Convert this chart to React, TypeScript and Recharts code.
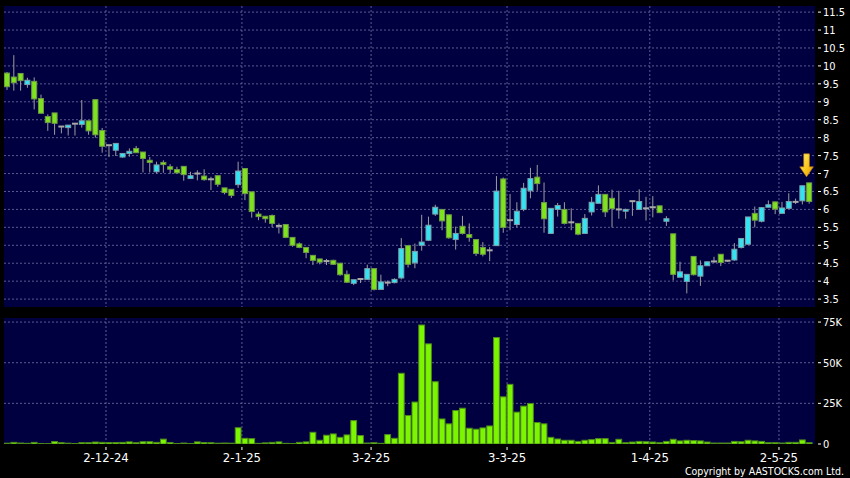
import React from 'react';
import { ComposedChart, BarChart, Bar, XAxis, YAxis, CartesianGrid, ReferenceDot } from 'recharts';

const FONT = "'DejaVu Sans Condensed', 'DejaVu Sans', sans-serif";

// Daily candles (trading days, oldest first)
const opens = [
  9.80, 9.69, 9.79, 9.48, 9.57, 9.09, 8.59, 8.69, 8.31, 8.28,
  8.39, 8.37, 8.47, 9.06, 8.20, 7.79, 7.65, 7.46, 7.56, 7.70,
  7.60, 7.37, 7.05, 7.31, 7.19, 7.11, 7.20, 6.86, 7.00, 6.93,
  6.84, 6.94, 6.60, 6.56, 6.69, 7.14, 6.49, 5.87, 5.81, 5.83,
  5.54, 5.58, 5.22, 5.04, 4.94, 4.72, 4.62, 4.56, 4.58, 4.50,
  4.19, 3.94, 4.06, 4.05, 4.35, 3.77, 3.96, 3.96, 4.09, 4.99,
  4.51, 5.00, 5.14, 5.87, 6.00, 5.85, 5.16, 5.53, 5.30, 5.16,
  4.94, 4.86, 4.99, 6.85, 5.70, 5.58, 6.00, 6.52, 6.90, 6.19,
  5.33, 6.00, 6.00, 5.64, 5.61, 5.33, 5.93, 6.17, 6.42, 6.31,
  6.00, 5.95, 6.23, 6.00, 6.03, 6.06, 6.10, 5.67, 5.32, 4.11,
  3.99, 4.69, 4.14, 4.43, 4.55, 4.75, 4.57, 4.59, 4.94, 5.03,
  5.89, 5.67, 6.06, 6.21, 5.89, 6.03, 6.21, 6.24, 6.74,
];
const highs = [
  9.83, 10.30, 9.80, 9.67, 9.68, 9.20, 8.65, 8.69, 8.32, 8.35,
  8.39, 9.05, 8.47, 9.06, 8.27, 7.79, 7.84, 7.57, 7.70, 7.77,
  7.60, 7.46, 7.33, 7.37, 7.26, 7.19, 7.20, 7.05, 7.09, 7.12,
  6.91, 6.94, 6.60, 6.56, 7.33, 7.14, 6.49, 5.94, 5.81, 5.86,
  5.61, 5.58, 5.22, 5.08, 4.94, 4.72, 4.62, 4.62, 4.60, 4.50,
  4.30, 4.04, 4.06, 4.46, 4.35, 4.18, 4.02, 4.08, 5.20, 4.99,
  5.05, 5.85, 5.80, 6.13, 6.00, 5.85, 5.52, 5.82, 5.61, 5.16,
  5.09, 4.95, 6.93, 6.89, 6.43, 6.20, 6.74, 7.16, 7.24, 6.75,
  6.03, 6.18, 6.20, 6.03, 5.61, 5.87, 6.35, 6.67, 6.42, 6.55,
  6.52, 6.02, 6.23, 6.56, 6.35, 6.37, 6.10, 5.81, 5.32, 4.54,
  4.19, 4.69, 4.58, 4.54, 4.68, 4.75, 4.58, 5.06, 5.19, 5.79,
  6.08, 6.05, 6.25, 6.21, 6.21, 6.45, 6.30, 6.66, 6.74,
];
const lows = [
  9.33, 9.31, 9.31, 9.39, 8.79, 8.68, 8.19, 8.08, 8.12, 8.06,
  8.06, 8.28, 8.08, 8.00, 7.58, 7.46, 7.49, 7.44, 7.47, 7.58,
  7.03, 7.03, 7.00, 7.02, 7.00, 7.00, 6.80, 6.85, 6.81, 6.80,
  6.54, 6.63, 6.42, 6.32, 6.60, 6.26, 5.77, 5.70, 5.63, 5.50,
  5.33, 5.20, 4.96, 4.92, 4.64, 4.45, 4.47, 4.45, 4.45, 4.15,
  3.95, 3.89, 3.95, 4.05, 3.74, 3.77, 3.86, 3.94, 4.05, 4.38,
  4.36, 4.85, 5.12, 5.82, 5.42, 5.18, 4.88, 5.30, 5.10, 4.70,
  4.69, 4.56, 4.99, 5.35, 5.42, 5.50, 5.95, 6.31, 6.52, 5.35,
  5.33, 5.80, 5.58, 5.42, 5.28, 5.33, 5.83, 6.17, 5.79, 5.50,
  5.74, 5.74, 5.82, 6.00, 5.69, 5.78, 5.91, 5.54, 4.02, 4.11,
  3.66, 4.16, 3.87, 4.43, 4.51, 4.42, 4.54, 4.57, 4.91, 5.01,
  5.50, 5.64, 6.06, 5.87, 5.89, 6.03, 6.15, 6.14, 6.16,
];
const closes = [
  9.42, 9.53, 9.59, 9.60, 9.08, 8.68, 8.42, 8.40, 8.31, 8.35,
  8.39, 8.47, 8.19, 8.08, 7.76, 7.79, 7.84, 7.56, 7.62, 7.58,
  7.42, 7.31, 7.24, 7.25, 7.12, 7.02, 6.97, 6.94, 7.00, 6.83,
  6.84, 6.70, 6.47, 6.39, 7.07, 6.44, 5.94, 5.80, 5.74, 5.61,
  5.54, 5.22, 5.00, 4.94, 4.80, 4.58, 4.53, 4.56, 4.47, 4.18,
  3.97, 4.04, 4.06, 4.35, 3.77, 3.98, 3.96, 4.05, 4.91, 4.47,
  4.83, 5.09, 5.56, 6.06, 5.68, 5.21, 5.33, 5.33, 5.22, 4.77,
  4.75, 4.86, 6.51, 5.50, 5.70, 5.95, 6.59, 6.86, 6.72, 5.74,
  6.03, 6.11, 5.61, 5.64, 5.31, 5.75, 6.20, 6.42, 5.93, 6.02,
  6.00, 6.00, 6.23, 6.22, 6.03, 6.06, 5.91, 5.74, 4.19, 4.26,
  4.19, 4.18, 4.43, 4.54, 4.55, 4.52, 4.57, 4.89, 5.19, 5.79,
  5.70, 6.05, 6.13, 6.01, 6.04, 6.22, 6.21, 6.66, 6.22,
];
const volumes = [
  500, 1000, 600, 400, 1000, 300, 200, 1500, 800, 500,
  300, 800, 800, 1200, 1000, 900, 900, 1000, 1300, 800,
  1400, 1400, 1000, 3000, 900, 300, 600, 300, 1300, 900,
  800, 500, 600, 500, 10000, 3500, 3300, 400, 700, 1000,
  1300, 400, 300, 1000, 1300, 7200, 2300, 5400, 6200, 4100,
  5600, 14400, 5200, 600, 800, 400, 5800, 3500, 43500, 17500,
  25800, 73200, 61600, 38300, 15400, 12400, 20600, 22000, 9700, 9100,
  9900, 11100, 65500, 29000, 36700, 19600, 23300, 24900, 13200, 12400,
  4100, 3100, 2300, 2300, 1600, 2300, 2700, 3300, 3300, 1000,
  2900, 800, 1200, 1600, 1400, 1200, 800, 1600, 2900, 1900,
  2300, 2100, 1900, 1200, 600, 600, 600, 1600, 1400, 2300,
  1900, 1600, 800, 800, 600, 1000, 1000, 2500, 800,
];

// first trading day of each month (1-based candle index) and its label
const monthStartIndex = [16, 36, 55, 75, 96, 115];
const monthLabels = ['2-12-24', '2-1-25', '3-2-25', '3-3-25', '1-4-25', '2-5-25'];
const priceTicks = [3.5, 4, 4.5, 5, 5.5, 6, 6.5, 7, 7.5, 8, 8.5, 9, 9.5, 10, 10.5, 11, 11.5];
const volumeTicks = [0, 25000, 50000, 75000];
const volumeGrid = [25000, 50000, 75000];

const rows = opens.map((o, k) => ({
  i: k + 1,
  open: o,
  high: highs[k],
  low: lows[k],
  close: closes[k],
  range: [lows[k], highs[k]],
  volume: volumes[k],
}));
const monthTicks = monthStartIndex.map((i) => i - 0.5);
const lastRow = rows[rows.length - 1];
const X_DOMAIN: [number, number] = [0.5, 119.8];

const PLOT_BG = '#000040';
const GRID = '#5b5b90';
const GREEN = '#7ee21f';
const GREEN_EDGE = '#6f9a45';
const CYAN = '#33e3f2';
const CYAN_EDGE = '#7c9ea8';
const WICK = '#9c9c9c';

const Candle = (props: any) => {
  const { x, y, width, height, payload } = props;
  if (!payload) return null;
  const { open, close, high, low } = payload;
  const cx = x + width / 2;
  const span = high - low;
  const yOf = (v: number) => (span > 0 ? y + ((high - v) / span) * height : y);
  const yo = yOf(open);
  const yc = yOf(close);
  const bw = 5;
  let body;
  if (open === close) {
    body = <rect x={cx - 3} y={yo - 1} width={6} height={2} fill="#a8a8a8" />;
  } else {
    const up = close > open;
    const top = Math.min(yo, yc);
    const h = Math.max(Math.abs(yc - yo), 1);
    body = (
      <rect
        x={cx - bw / 2}
        y={top}
        width={bw}
        height={h}
        fill={up ? CYAN : GREEN}
        stroke={up ? CYAN_EDGE : GREEN_EDGE}
        strokeWidth={1}
      />
    );
  }
  return (
    <g>
      <line x1={cx} x2={cx} y1={yOf(high)} y2={yOf(low)} stroke={WICK} strokeWidth={1} />
      {body}
    </g>
  );
};

const VolBar = (props: any) => {
  const { x, y, width, height } = props;
  const cx = x + width / 2;
  if (!(height > 0)) return null;
  return <rect x={cx - 2.9} y={y} width={5.8} height={height} fill="#7cf500" stroke="#4d8a1c" strokeWidth={1} />;
};

const Arrow = (props: any) => {
  const { cx, cy } = props;
  if (cx == null || cy == null) return null;
  const ax = cx - 3;
  const tip = cy - 6;
  const d = `M${ax - 2.8},${tip - 23} L${ax + 2.8},${tip - 23} L${ax + 2.8},${tip - 10} L${ax + 6.8},${tip - 10} L${ax},${tip} L${ax - 6.8},${tip - 10} L${ax - 2.8},${tip - 10} Z`;
  return (
    <g>
      <defs>
        <linearGradient id="arrowGrad" x1="0" y1="0" x2="1" y2="1">
          <stop offset="0%" stopColor="#fff27a" />
          <stop offset="55%" stopColor="#f9c81c" />
          <stop offset="100%" stopColor="#e0930a" />
        </linearGradient>
      </defs>
      <path d={d} fill="url(#arrowGrad)" stroke="#c98208" strokeWidth={0.6} />
    </g>
  );
};

const RightTick = (props: any) => {
  const { x, y, payload, fmt } = props;
  const label = fmt ? fmt(payload.value) : String(payload.value);
  return (
    <g>
      <line x1={x + 3} x2={x + 6} y1={y} y2={y} stroke="#ffffff" strokeWidth={1} />
      <text x={x + 8} y={y} dy="0.36em" fill="#ffffff" fontSize={11} fontFamily={FONT} textAnchor="start">
        {label}
      </text>
    </g>
  );
};

const DateTick = (props: any) => {
  const { x, y, payload } = props;
  const idx = monthTicks.indexOf(payload.value);
  const label = idx >= 0 ? monthLabels[idx] : '';
  return (
    <g>
      <line x1={x} x2={x} y1={y + 3} y2={y + 6} stroke="#ffffff" strokeWidth={1} />
      <text x={x} y={y + 18} fill="#ffffff" fontSize={13} fontFamily={FONT} textAnchor="middle">
        {label}
      </text>
    </g>
  );
};

const fmtVol = (v: number) => (v === 0 ? '0' : `${v / 1000}K`);

export default function App() {
  return (
    <div
      style={{
        position: 'absolute',
        left: 0,
        top: 0,
        width: 850,
        height: 478,
        background: '#000000',
        overflow: 'hidden',
        fontFamily: FONT,
      }}
    >
      <div style={{ position: 'absolute', left: 0, top: 0 }}>
        <ComposedChart width={850} height={312} data={rows} margin={{ top: 6, right: 0, left: 4, bottom: 5 }}>
          <CartesianGrid
            fill={PLOT_BG}
            stroke={GRID}
            strokeDasharray="2 2"
            verticalValues={monthTicks}
            horizontalValues={priceTicks}
          />
          <XAxis dataKey="i" type="number" domain={X_DOMAIN} ticks={monthTicks} allowDataOverflow hide />
          <YAxis
            orientation="right"
            width={35}
            type="number"
            domain={[3.28, 11.67]}
            ticks={priceTicks}
            interval={0}
            allowDataOverflow
            axisLine={false}
            tickLine={false}
            tickSize={0}
            tickMargin={0}
            tick={<RightTick />}
          />
          <Bar dataKey="range" barSize={6} shape={<Candle />} isAnimationActive={false} />
          <ReferenceDot x={lastRow.i} y={lastRow.high} r={0} shape={<Arrow />} />
        </ComposedChart>
      </div>
      <div style={{ position: 'absolute', left: 0, top: 312 }}>
        <BarChart width={850} height={166} data={rows} margin={{ top: 6, right: 0, left: 4, bottom: 0 }}>
          <CartesianGrid
            fill={PLOT_BG}
            stroke={GRID}
            strokeDasharray="2 2"
            verticalValues={monthTicks}
            horizontalValues={volumeGrid}
          />
          <XAxis
            dataKey="i"
            type="number"
            domain={X_DOMAIN}
            ticks={monthTicks}
            interval={0}
            allowDataOverflow
            height={34}
            axisLine={false}
            tickLine={false}
            tickSize={0}
            tickMargin={0}
            tick={<DateTick />}
          />
          <YAxis
            orientation="right"
            width={35}
            type="number"
            domain={[0, 77500]}
            ticks={volumeTicks}
            interval={0}
            allowDataOverflow
            axisLine={false}
            tickLine={false}
            tickSize={0}
            tickMargin={0}
            tick={<RightTick fmt={fmtVol} />}
          />
          <Bar dataKey="volume" barSize={6} shape={<VolBar />} isAnimationActive={false} />
        </BarChart>
      </div>
      <div
        style={{
          position: 'absolute',
          right: 6,
          top: 466,
          fontSize: 10.5,
          lineHeight: '11px',
          color: '#ffffff',
          whiteSpace: 'nowrap',
        }}
      >
        Copyright by AASTOCKS.com Ltd.
      </div>
    </div>
  );
}
